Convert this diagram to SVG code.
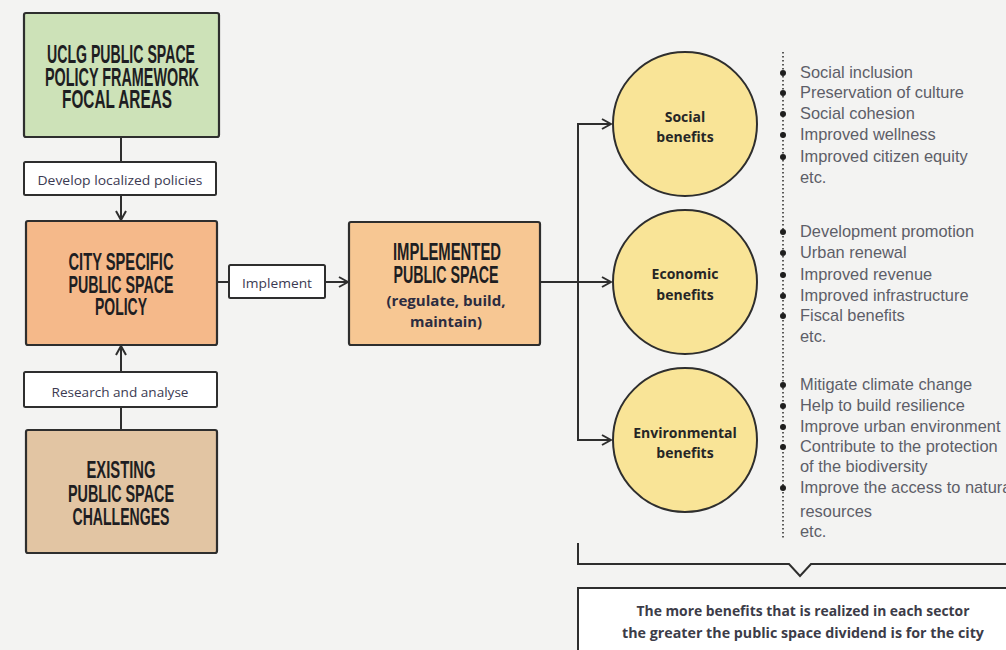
<svg xmlns="http://www.w3.org/2000/svg" width="1006" height="650" viewBox="0 0 1006 650">
  <style>
    .box { stroke: #2e2e2e; stroke-width: 2.2; }
    .tag { fill: #ffffff; stroke: #2e2e2e; stroke-width: 2; }
    .head { font-family: "Liberation Sans Narrow", "Liberation Sans", Arial, sans-serif; font-weight: bold; fill: #1e1e22; text-anchor: middle; }
    .tagtxt { font-family: "Open Sans", "Noto Sans", sans-serif; font-size: 12.5px; fill: #3b3a52; text-anchor: middle; }
    .sub { font-family: "Open Sans", "Noto Sans", sans-serif; font-weight: bold; font-size: 14.5px; fill: #2c2c40; text-anchor: middle; }
    .circ { fill: #f9e497; stroke: #2e2e2e; stroke-width: 2; }
    .ctxt { font-family: "Open Sans", "Noto Sans", sans-serif; font-weight: bold; font-size: 14px; fill: #262626; text-anchor: middle; }
    .item { font-family: "Liberation Sans", Arial, sans-serif; font-size: 16.4px; fill: #5d5e68; }
    .line { fill: none; stroke: #2e2e2e; stroke-width: 2; }
    .dots { fill: none; stroke: #333; stroke-width: 1.6; stroke-dasharray: 1.5 2.5; }
    .bul { fill: #1e1e1e; }
    .note { font-family: "Open Sans", "Noto Sans", sans-serif; font-weight: bold; font-size: 13.5px; fill: #3c3c48; text-anchor: middle; }
  </style>
  <defs>
    <marker id="chev" viewBox="0 0 12 12" refX="11" refY="6" markerWidth="12" markerHeight="12" markerUnits="userSpaceOnUse" orient="auto">
      <path d="M2,1 L11,6 L2,11" fill="none" stroke="#2e2e2e" stroke-width="2"/>
    </marker>
  </defs>

  <rect width="1006" height="650" fill="#f3f3f2"/>

  <!-- connectors -->
  <g id="connectors">
    <line class="line" x1="121" y1="137" x2="121" y2="162"/>
    <line class="line" x1="121" y1="195" x2="121" y2="220" marker-end="url(#chev)"/>
    <line class="line" x1="121" y1="372" x2="121" y2="346" marker-end="url(#chev)"/>
    <line class="line" x1="121" y1="407" x2="121" y2="430"/>
    <line class="line" x1="217" y1="282" x2="229" y2="282"/>
    <line class="line" x1="325" y1="282" x2="348" y2="282" marker-end="url(#chev)"/>
    <line class="line" x1="540" y1="282" x2="611" y2="282" marker-end="url(#chev)"/>
    <polyline class="line" points="578,440 578,124 611,124" marker-end="url(#chev)"/>
    <polyline class="line" points="578,282 578,440 611,440" marker-end="url(#chev)"/>
    <polyline class="line" points="578,543 578,564 789,564 800,576 811,564 1006,564"/>
  </g>

  <!-- left column -->
  <g id="node-framework">
    <rect class="box" x="24" y="13" width="195" height="124" rx="2" fill="#cde2b8"/>
    <text class="head" x="121" y="63" font-size="26" textLength="148" lengthAdjust="spacingAndGlyphs">UCLG PUBLIC SPACE</text>
    <text class="head" x="122" y="86" font-size="26" textLength="154" lengthAdjust="spacingAndGlyphs">POLICY FRAMEWORK</text>
    <text class="head" x="117" y="108" font-size="26" textLength="110" lengthAdjust="spacingAndGlyphs">FOCAL AREAS</text>
  </g>

  <g id="tag-develop">
    <rect class="tag" x="24" y="162" width="192" height="33" rx="1.5"/>
    <text class="tagtxt" x="120" y="185" textLength="165" lengthAdjust="spacingAndGlyphs">Develop localized policies</text>
  </g>

  <g id="node-city-policy">
    <rect class="box" x="26" y="221" width="191" height="124" rx="2" fill="#f5b98a"/>
    <text class="head" x="121" y="270" font-size="24.5" textLength="105" lengthAdjust="spacingAndGlyphs">CITY SPECIFIC</text>
    <text class="head" x="121" y="293" font-size="24.5" textLength="105" lengthAdjust="spacingAndGlyphs">PUBLIC SPACE</text>
    <text class="head" x="121" y="315" font-size="24.5" textLength="52" lengthAdjust="spacingAndGlyphs">POLICY</text>
  </g>

  <g id="tag-research">
    <rect class="tag" x="24" y="372" width="193" height="35" rx="1.5"/>
    <text class="tagtxt" x="120" y="397" textLength="137" lengthAdjust="spacingAndGlyphs">Research and analyse</text>
  </g>

  <g id="node-challenges">
    <rect class="box" x="26" y="430" width="191" height="123" rx="2" fill="#e2c5a3"/>
    <text class="head" x="121" y="478" font-size="24.5" textLength="69" lengthAdjust="spacingAndGlyphs">EXISTING</text>
    <text class="head" x="121" y="502" font-size="24.5" textLength="106" lengthAdjust="spacingAndGlyphs">PUBLIC SPACE</text>
    <text class="head" x="121" y="525" font-size="24.5" textLength="97" lengthAdjust="spacingAndGlyphs">CHALLENGES</text>
  </g>

  <g id="tag-implement">
    <rect class="tag" x="229" y="265" width="96" height="33" rx="1.5"/>
    <text class="tagtxt" x="277" y="288" textLength="70" lengthAdjust="spacingAndGlyphs">Implement</text>
  </g>

  <g id="node-implemented">
    <rect class="box" x="349" y="222" width="191" height="123" rx="2" fill="#f7c793"/>
    <text class="head" x="447" y="260" font-size="24" textLength="108" lengthAdjust="spacingAndGlyphs">IMPLEMENTED</text>
    <text class="head" x="446" y="283" font-size="24" textLength="105" lengthAdjust="spacingAndGlyphs">PUBLIC SPACE</text>
    <text class="sub" x="446" y="306" textLength="119" lengthAdjust="spacingAndGlyphs">(regulate, build,</text>
    <text class="sub" x="446" y="327" textLength="72" lengthAdjust="spacingAndGlyphs">maintain)</text>
  </g>

  <!-- benefit circles -->
  <g id="node-social">
    <circle class="circ" cx="685" cy="124" r="72"/>
    <text class="ctxt" x="685" y="122">Social</text>
    <text class="ctxt" x="685" y="142">benefits</text>
  </g>
  <g id="node-economic">
    <circle class="circ" cx="685" cy="282" r="72"/>
    <text class="ctxt" x="685" y="279">Economic</text>
    <text class="ctxt" x="685" y="300">benefits</text>
  </g>
  <g id="node-environmental">
    <circle class="circ" cx="685" cy="440" r="72"/>
    <text class="ctxt" x="685" y="438">Environmental</text>
    <text class="ctxt" x="685" y="458">benefits</text>
  </g>

  <!-- benefit lists -->
  <g id="benefit-lists">
    <line class="dots" x1="783" y1="52" x2="783" y2="538"/>
    <g class="bul">
      <circle cx="783" cy="73" r="3"/>
      <circle cx="783" cy="93" r="3"/>
      <circle cx="783" cy="114" r="3"/>
      <circle cx="783" cy="135" r="3"/>
      <circle cx="783" cy="157" r="3"/>
      <circle cx="783" cy="232" r="3"/>
      <circle cx="783" cy="253" r="3"/>
      <circle cx="783" cy="275" r="3"/>
      <circle cx="783" cy="296" r="3"/>
      <circle cx="783" cy="316" r="3"/>
      <circle cx="783" cy="385" r="3"/>
      <circle cx="783" cy="406" r="3"/>
      <circle cx="783" cy="427" r="3"/>
      <circle cx="783" cy="447" r="3"/>
      <circle cx="783" cy="488" r="3"/>
    </g>
    <g class="item">
      <text x="800" y="78">Social inclusion</text>
      <text x="800" y="98">Preservation of culture</text>
      <text x="800" y="119">Social cohesion</text>
      <text x="800" y="140">Improved wellness</text>
      <text x="800" y="162">Improved citizen equity</text>
      <text x="800" y="183">etc.</text>

      <text x="800" y="237">Development promotion</text>
      <text x="800" y="258">Urban renewal</text>
      <text x="800" y="280">Improved revenue</text>
      <text x="800" y="301">Improved infrastructure</text>
      <text x="800" y="321">Fiscal benefits</text>
      <text x="800" y="342">etc.</text>

      <text x="800" y="390">Mitigate climate change</text>
      <text x="800" y="411">Help to build resilience</text>
      <text x="800" y="432">Improve urban environment</text>
      <text x="800" y="452">Contribute to the protection</text>
      <text x="800" y="472">of the biodiversity</text>
      <text x="800" y="493">Improve the access to natural</text>
      <text x="800" y="517">resources</text>
      <text x="800" y="537">etc.</text>
    </g>
  </g>

  <!-- summary -->
  <g id="node-summary">
    <rect class="tag" x="578" y="588" width="440" height="80"/>
    <text class="note" x="803" y="616" textLength="333" lengthAdjust="spacingAndGlyphs">The more benefits that is realized in each sector</text>
    <text class="note" x="803" y="638" textLength="362" lengthAdjust="spacingAndGlyphs">the greater the public space dividend is for the city</text>
  </g>
</svg>
